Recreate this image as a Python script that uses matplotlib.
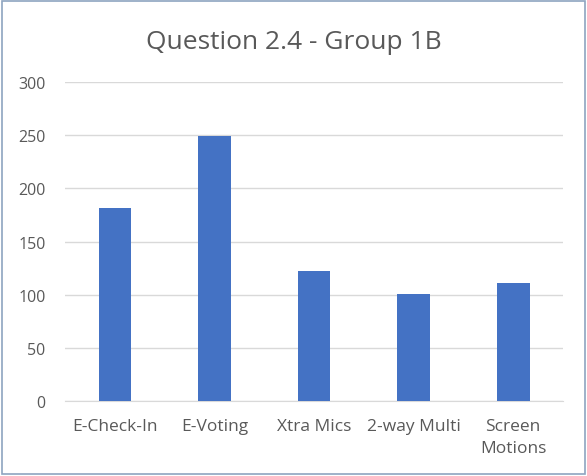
import matplotlib.pyplot as plt
from matplotlib.patches import Rectangle

categories = ["E-Check-In", "E-Voting", "Xtra Mics", "2-way Multi", "Screen\nMotions"]
values = [182, 249, 122, 101, 111]
yticks = [0, 50, 100, 150, 200, 250, 300]

plt.rcParams['font.family'] = ['Open Sans', 'DejaVu Sans']

fig = plt.figure(figsize=(5.87, 4.77), dpi=100)
ax = fig.add_axes([0.111, 0.157, 0.848, 0.669])

ax.bar(range(len(categories)), values, width=0.33, color='#4472C4', zorder=3)
ax.set_xlim(-0.5, len(categories) - 0.5)
ax.set_ylim(0, 300)
ax.set_yticks(yticks)
ax.set_xticks(range(len(categories)))
ax.set_xticklabels(categories, fontsize=12.5, color='#595959', linespacing=1.55)
ax.tick_params(axis='y', labelsize=11.5, labelcolor='#595959', length=0, pad=14)
ax.tick_params(axis='x', length=0, pad=12)
ax.yaxis.grid(True, color='#D9D9D9', linewidth=1, zorder=0)
for s in ['top', 'right', 'left']:
    ax.spines[s].set_visible(False)
ax.spines['bottom'].set_color('#D9D9D9')

fig.text(0.5, 0.91, "Question 2.4 - Group 1B", ha='center', va='center',
         fontsize=19, color='#595959')

fig.patches.append(Rectangle((0.003, 0.004), 0.994, 0.992, transform=fig.transFigure,
                             fill=False, edgecolor='#8EA4C0', linewidth=1.2))

plt.savefig("out.png", dpi=100)
